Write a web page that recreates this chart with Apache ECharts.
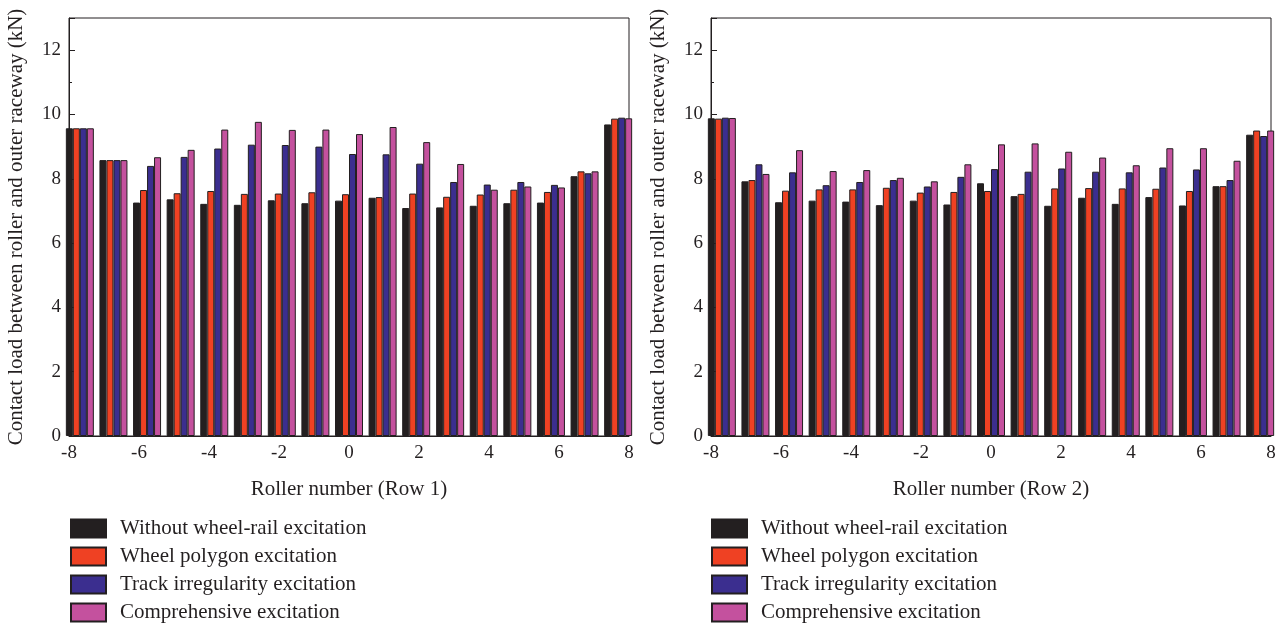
<!DOCTYPE html>
<html>
<head>
<meta charset="utf-8">
<title>Contact load between roller and outer raceway</title>
<script src="https://cdn.jsdelivr.net/npm/echarts@6/dist/echarts.min.js"></script>
<style>
  html, body { margin: 0; padding: 0; background: #ffffff; }
  #chart { width: 1282px; height: 624px; }
</style>
</head>
<body>
<div id="chart"></div>
<script>
// roller positions (x value of each bar group)
const rollerPos = [-7.69, -6.73, -5.77, -4.81, -3.85, -2.89, -1.92, -0.96, 0,
                   0.96, 1.92, 2.89, 3.85, 4.81, 5.77, 6.73, 7.69];
const xTicks = [-8, -6, -4, -2, 0, 2, 4, 6, 8];
const yTicks = [0, 2, 4, 6, 8, 10, 12];
const seriesNames = ['Without wheel-rail excitation', 'Wheel polygon excitation',
                     'Track irregularity excitation', 'Comprehensive excitation'];

// Row 1
const row1None   = [9.57, 8.58, 7.26, 7.36, 7.22, 7.19, 7.33, 7.24, 7.32, 7.41, 7.09, 7.11, 7.16, 7.24, 7.26, 8.08, 9.69];
const row1Wheel  = [9.57, 8.58, 7.65, 7.55, 7.62, 7.53, 7.54, 7.58, 7.52, 7.43, 7.54, 7.44, 7.51, 7.66, 7.59, 8.23, 9.87];
const row1Track  = [9.57, 8.58, 8.40, 8.68, 8.94, 9.06, 9.05, 9.00, 8.77, 8.76, 8.47, 7.90, 7.82, 7.90, 7.81, 8.17, 9.90];
const row1Comp   = [9.57, 8.58, 8.67, 8.90, 9.53, 9.77, 9.52, 9.53, 9.39, 9.61, 9.14, 8.46, 7.66, 7.76, 7.73, 8.23, 9.88];

// Row 2
const row2None   = [9.88, 7.92, 7.27, 7.32, 7.29, 7.18, 7.32, 7.20, 7.86, 7.46, 7.16, 7.41, 7.22, 7.43, 7.17, 7.77, 9.37];
const row2Wheel  = [9.87, 7.96, 7.63, 7.67, 7.67, 7.72, 7.57, 7.59, 7.62, 7.53, 7.70, 7.71, 7.70, 7.69, 7.62, 7.77, 9.50];
const row2Track  = [9.90, 8.45, 8.20, 7.80, 7.90, 7.96, 7.76, 8.06, 8.30, 8.22, 8.32, 8.22, 8.20, 8.35, 8.29, 7.96, 9.33];
const row2Comp   = [9.89, 8.15, 8.89, 8.24, 8.27, 8.03, 7.92, 8.45, 9.07, 9.10, 8.84, 8.66, 8.42, 8.95, 8.95, 8.56, 9.50];

const colors = ['#231f20', '#ef4123', '#3b2e8f', '#c4519e'];
const ink = '#231f20';
const font = '"Liberation Serif", "DejaVu Serif", serif';

const chart = echarts.init(document.getElementById('chart'));

function pairs(vals) {
    return vals.map(function (v, i) { return [rollerPos[i], v]; });
}

function barSeries(rows, idx) {
    return rows.map(function (vals, k) {
        return {
            name: seriesNames[k],
            type: 'bar',
            xAxisIndex: idx,
            yAxisIndex: idx,
            data: pairs(vals),
            barWidth: 7,
            barGap: '0%',
            clip: true,
            itemStyle: {
                color: colors[k],
                borderColor: ink,
                borderWidth: 1
            }
        };
    });
}

function xAxis(idx, title) {
    return {
        type: 'value',
        gridIndex: idx,
        min: -8,
        max: 8,
        interval: 2,
        name: title,
        nameLocation: 'middle',
        nameGap: 43,
        nameTextStyle: { fontFamily: font, fontSize: 21, color: ink },
        axisLine: { show: true, onZero: false, lineStyle: { color: ink, width: 1 } },
        axisTick: { show: true, inside: true, length: 5, lineStyle: { color: ink } },
        axisLabel: {
            fontFamily: font, fontSize: 19, color: ink, margin: 8,
            customValues: xTicks
        },
        splitLine: { show: false }
    };
}

function yAxis(idx) {
    return {
        type: 'value',
        gridIndex: idx,
        min: 0,
        max: 13,
        interval: 2,
        name: 'Contact load between roller and outer raceway (kN)',
        nameLocation: 'middle',
        nameGap: 42,
        nameTextStyle: { fontFamily: font, fontSize: 21, color: ink },
        axisLine: { show: true, onZero: false, lineStyle: { color: ink, width: 1 } },
        axisTick: { show: true, inside: true, length: 6, lineStyle: { color: ink } },
        minorTick: { show: true, splitNumber: 2, length: 3, lineStyle: { color: ink } },
        axisLabel: {
            fontFamily: font, fontSize: 19, color: ink, margin: 8,
            customValues: yTicks
        },
        splitLine: { show: false }
    };
}

function legend(left) {
    return {
        orient: 'vertical',
        left: left,
        top: 518,
        height: 106,
        padding: 0,
        itemWidth: 35,
        itemHeight: 18,
        itemGap: 7,
        icon: 'rect',
        data: seriesNames,
        textStyle: {
            fontFamily: font, fontSize: 21, color: ink,
            padding: [0, 0, 0, 9]
        }
    };
}

const option = {
    backgroundColor: '#ffffff',
    animation: false,
    grid: [
        { left: 69, top: 18, width: 560, height: 418, show: true, borderColor: ink, borderWidth: 1, backgroundColor: 'transparent' },
        { left: 711, top: 18, width: 560, height: 418, show: true, borderColor: ink, borderWidth: 1, backgroundColor: 'transparent' }
    ],
    legend: [legend(70), legend(711)],
    xAxis: [xAxis(0, 'Roller number (Row 1)'), xAxis(1, 'Roller number (Row 2)')],
    yAxis: [yAxis(0), yAxis(1)],
    series: barSeries([row1None, row1Wheel, row1Track, row1Comp], 0)
        .concat(barSeries([row2None, row2Wheel, row2Track, row2Comp], 1))
};

chart.setOption(option);
</script>
</body>
</html>
